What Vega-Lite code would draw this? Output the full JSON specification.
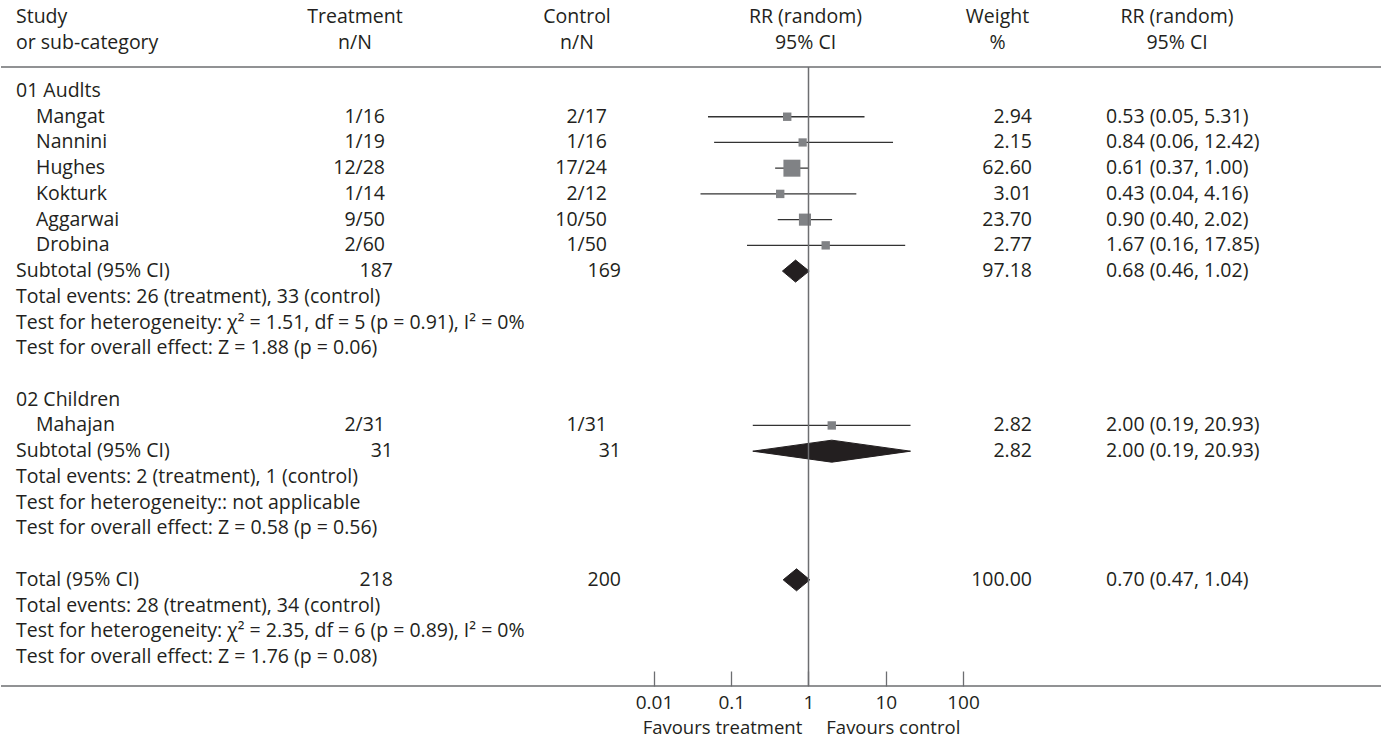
{
  "$schema": "https://vega.github.io/schema/vega-lite/v6.json",
  "padding": {"left": 0, "top": 0, "right": 0, "bottom": 4},
  "autosize": {"type": "pad"},
  "spacing": 0,
  "bounds": "flush",
  "config": {
    "view": {"stroke": null},
    "concat": {"spacing": 0},
    "text": {"font": "Open Sans", "fontSize": 19.5, "color": "#231f20", "baseline": "middle", "lineHeight": 26}
  },
  "datasets": {
    "headers": [
      {"row": -2, "study": ["Study", "or sub-category"], "treat": ["Treatment", "n/N"], "ctrl": ["Control", "n/N"], "plot": ["RR (random)", "95% CI"], "weight": ["Weight", "%"], "ci": ["RR (random)", "95% CI"]}
    ],
    "rows": [
      {"row": 0, "kind": "group", "indent": 0, "label": "01 Audlts"},
      {"row": 1, "kind": "study", "indent": 1, "label": "Mangat", "treat": "1/16", "ctrl": "2/17", "weight": 2.94, "ci": "0.53 (0.05, 5.31)", "rr": 0.53, "lo": 0.05, "hi": 5.31},
      {"row": 2, "kind": "study", "indent": 1, "label": "Nannini", "treat": "1/19", "ctrl": "1/16", "weight": 2.15, "ci": "0.84 (0.06, 12.42)", "rr": 0.84, "lo": 0.06, "hi": 12.42},
      {"row": 3, "kind": "study", "indent": 1, "label": "Hughes", "treat": "12/28", "ctrl": "17/24", "weight": 62.60, "ci": "0.61 (0.37, 1.00)", "rr": 0.61, "lo": 0.37, "hi": 1.00},
      {"row": 4, "kind": "study", "indent": 1, "label": "Kokturk", "treat": "1/14", "ctrl": "2/12", "weight": 3.01, "ci": "0.43 (0.04, 4.16)", "rr": 0.43, "lo": 0.04, "hi": 4.16},
      {"row": 5, "kind": "study", "indent": 1, "label": "Aggarwai", "treat": "9/50", "ctrl": "10/50", "weight": 23.70, "ci": "0.90 (0.40, 2.02)", "rr": 0.90, "lo": 0.40, "hi": 2.02},
      {"row": 6, "kind": "study", "indent": 1, "label": "Drobina", "treat": "2/60", "ctrl": "1/50", "weight": 2.77, "ci": "1.67 (0.16, 17.85)", "rr": 1.67, "lo": 0.16, "hi": 17.85},
      {"row": 7, "kind": "subtotal", "indent": 0, "label": "Subtotal (95% CI)", "treat": "187", "ctrl": "169", "weight": 97.18, "ci": "0.68 (0.46, 1.02)"},
      {"row": 8, "kind": "note", "indent": 0, "label": "Total events: 26 (treatment), 33 (control)"},
      {"row": 9, "kind": "note", "indent": 0, "label": "Test for heterogeneity: χ² = 1.51, df = 5 (p = 0.91), I² = 0%"},
      {"row": 10, "kind": "note", "indent": 0, "label": "Test for overall effect: Z = 1.88 (p = 0.06)"},
      {"row": 12, "kind": "group", "indent": 0, "label": "02 Children"},
      {"row": 13, "kind": "study", "indent": 1, "label": "Mahajan", "treat": "2/31", "ctrl": "1/31", "weight": 2.82, "ci": "2.00 (0.19, 20.93)", "rr": 2.00, "lo": 0.19, "hi": 20.93},
      {"row": 14, "kind": "subtotal", "indent": 0, "label": "Subtotal (95% CI)", "treat": "31", "ctrl": "31", "weight": 2.82, "ci": "2.00 (0.19, 20.93)"},
      {"row": 15, "kind": "note", "indent": 0, "label": "Total events: 2 (treatment), 1 (control)"},
      {"row": 16, "kind": "note", "indent": 0, "label": "Test for heterogeneity:: not applicable"},
      {"row": 17, "kind": "note", "indent": 0, "label": "Test for overall effect: Z = 0.58 (p = 0.56)"},
      {"row": 19, "kind": "total", "indent": 0, "label": "Total (95% CI)", "treat": "218", "ctrl": "200", "weight": 100.00, "ci": "0.70 (0.47, 1.04)"},
      {"row": 20, "kind": "note", "indent": 0, "label": "Total events: 28 (treatment), 34 (control)"},
      {"row": 21, "kind": "note", "indent": 0, "label": "Test for heterogeneity: χ² = 2.35, df = 6 (p = 0.89), I² = 0%"},
      {"row": 22, "kind": "note", "indent": 0, "label": "Test for overall effect: Z = 1.76 (p = 0.08)"}
    ],
    "diamonds": [
      {"analysis": "Subtotal 01", "row": 7, "vertex": "left", "order": 1, "rr": 0.46},
      {"analysis": "Subtotal 01", "row": 7, "vertex": "top", "order": 2, "rr": 0.68},
      {"analysis": "Subtotal 01", "row": 7, "vertex": "right", "order": 3, "rr": 1.02},
      {"analysis": "Subtotal 01", "row": 7, "vertex": "bottom", "order": 4, "rr": 0.68},
      {"analysis": "Subtotal 02", "row": 14, "vertex": "left", "order": 1, "rr": 0.19},
      {"analysis": "Subtotal 02", "row": 14, "vertex": "top", "order": 2, "rr": 2.00},
      {"analysis": "Subtotal 02", "row": 14, "vertex": "right", "order": 3, "rr": 20.93},
      {"analysis": "Subtotal 02", "row": 14, "vertex": "bottom", "order": 4, "rr": 2.00},
      {"analysis": "Total", "row": 19, "vertex": "left", "order": 1, "rr": 0.47},
      {"analysis": "Total", "row": 19, "vertex": "top", "order": 2, "rr": 0.70},
      {"analysis": "Total", "row": 19, "vertex": "right", "order": 3, "rr": 1.04},
      {"analysis": "Total", "row": 19, "vertex": "bottom", "order": 4, "rr": 0.70}
    ]
  },
  "hconcat": [
    {
      "width": 318, "height": 686,
      "layer": [
        {"data": {"values": [{}]}, "mark": {"type": "rule", "color": "#6d6e71", "strokeWidth": 1.3}, "encoding": {"y": {"datum": -0.5, "type": "quantitative", "scale": {"domain": [-2, -1, 0, 22], "range": [17, 43, 91, 657], "nice": false, "zero": false}, "axis": null}}},
        {"data": {"values": [{}]}, "mark": {"type": "rule", "color": "#6d6e71", "strokeWidth": 1.3}, "encoding": {"y": {"value": "height"}}},
        {"data": {"name": "headers"}, "mark": {"type": "text", "align": "left"},
         "encoding": {"x": {"datum": 0, "type": "ordinal", "scale": {"type": "point", "domain": [0, 1], "range": [15, 35], "padding": 0}, "axis": null},
                      "y": {"field": "row", "type": "quantitative", "scale": {"domain": [-2, -1, 0, 22], "range": [17, 43, 91, 657], "nice": false, "zero": false}, "axis": null},
                      "text": {"field": "study"}}},
        {"data": {"name": "rows"}, "mark": {"type": "text", "align": "left"},
         "encoding": {"x": {"field": "indent", "type": "ordinal", "scale": {"type": "point", "domain": [0, 1], "range": [15, 35], "padding": 0}, "axis": null},
                      "y": {"field": "row", "type": "quantitative", "scale": {"domain": [-2, -1, 0, 22], "range": [17, 43, 91, 657], "nice": false, "zero": false}, "axis": null},
                      "text": {"field": "label"}}}
      ]
    },
    {
      "width": 72, "height": 686,
      "layer": [
        {"data": {"values": [{}]}, "mark": {"type": "rule", "color": "#6d6e71", "strokeWidth": 1.3}, "encoding": {"y": {"datum": -0.5, "type": "quantitative", "scale": {"domain": [-2, -1, 0, 22], "range": [17, 43, 91, 657], "nice": false, "zero": false}, "axis": null}}},
        {"data": {"values": [{}]}, "mark": {"type": "rule", "color": "#6d6e71", "strokeWidth": 1.3}, "encoding": {"y": {"value": "height"}}},
        {"data": {"name": "headers"}, "mark": {"type": "text", "align": "center"},
         "encoding": {"y": {"field": "row", "type": "quantitative", "scale": {"domain": [-2, -1, 0, 22], "range": [17, 43, 91, 657], "nice": false, "zero": false}, "axis": null},
                      "text": {"field": "treat"}}},
        {"data": {"name": "rows"}, "transform": [{"filter": "datum.kind === 'study'"}], "mark": {"type": "text", "align": "right", "dx": -6},
         "encoding": {"x": {"value": "width"},
                      "y": {"field": "row", "type": "quantitative", "scale": {"domain": [-2, -1, 0, 22], "range": [17, 43, 91, 657], "nice": false, "zero": false}, "axis": null},
                      "text": {"field": "treat"}}},
        {"data": {"name": "rows"}, "transform": [{"filter": "datum.kind === 'subtotal' || datum.kind === 'total'"}], "mark": {"type": "text", "align": "right", "dx": 2},
         "encoding": {"x": {"value": "width"},
                      "y": {"field": "row", "type": "quantitative", "scale": {"domain": [-2, -1, 0, 22], "range": [17, 43, 91, 657], "nice": false, "zero": false}, "axis": null},
                      "text": {"field": "treat"}}}
      ]
    },
    {
      "width": 148, "height": 686,
      "layer": [
        {"data": {"values": [{}]}, "mark": {"type": "rule", "color": "#6d6e71", "strokeWidth": 1.3}, "encoding": {"y": {"datum": -0.5, "type": "quantitative", "scale": {"domain": [-2, -1, 0, 22], "range": [17, 43, 91, 657], "nice": false, "zero": false}, "axis": null}}},
        {"data": {"values": [{}]}, "mark": {"type": "rule", "color": "#6d6e71", "strokeWidth": 1.3}, "encoding": {"y": {"value": "height"}}}
      ]
    },
    {
      "width": 70, "height": 686,
      "layer": [
        {"data": {"values": [{}]}, "mark": {"type": "rule", "color": "#6d6e71", "strokeWidth": 1.3}, "encoding": {"y": {"datum": -0.5, "type": "quantitative", "scale": {"domain": [-2, -1, 0, 22], "range": [17, 43, 91, 657], "nice": false, "zero": false}, "axis": null}}},
        {"data": {"values": [{}]}, "mark": {"type": "rule", "color": "#6d6e71", "strokeWidth": 1.3}, "encoding": {"y": {"value": "height"}}},
        {"data": {"name": "headers"}, "mark": {"type": "text", "align": "center", "dx": 3},
         "encoding": {"y": {"field": "row", "type": "quantitative", "scale": {"domain": [-2, -1, 0, 22], "range": [17, 43, 91, 657], "nice": false, "zero": false}, "axis": null},
                      "text": {"field": "ctrl"}}},
        {"data": {"name": "rows"}, "transform": [{"filter": "datum.kind === 'study'"}], "mark": {"type": "text", "align": "right", "dx": -2},
         "encoding": {"x": {"value": "width"},
                      "y": {"field": "row", "type": "quantitative", "scale": {"domain": [-2, -1, 0, 22], "range": [17, 43, 91, 657], "nice": false, "zero": false}, "axis": null},
                      "text": {"field": "ctrl"}}},
        {"data": {"name": "rows"}, "transform": [{"filter": "datum.kind === 'subtotal' || datum.kind === 'total'"}], "mark": {"type": "text", "align": "right", "dx": 12},
         "encoding": {"x": {"value": "width"},
                      "y": {"field": "row", "type": "quantitative", "scale": {"domain": [-2, -1, 0, 22], "range": [17, 43, 91, 657], "nice": false, "zero": false}, "axis": null},
                      "text": {"field": "ctrl"}}}
      ]
    },
    {
      "width": 45, "height": 686,
      "layer": [
        {"data": {"values": [{}]}, "mark": {"type": "rule", "color": "#6d6e71", "strokeWidth": 1.3}, "encoding": {"y": {"datum": -0.5, "type": "quantitative", "scale": {"domain": [-2, -1, 0, 22], "range": [17, 43, 91, 657], "nice": false, "zero": false}, "axis": null}}},
        {"data": {"values": [{}]}, "mark": {"type": "rule", "color": "#6d6e71", "strokeWidth": 1.3}, "encoding": {"y": {"value": "height"}}}
      ]
    },
    {
      "width": 309, "height": 686,
      "layer": [
        {"data": {"values": [{}]}, "mark": {"type": "rule", "color": "#6d6e71", "strokeWidth": 1.3}, "encoding": {"y": {"datum": -0.5, "type": "quantitative", "scale": {"domain": [-2, -1, 0, 22], "range": [17, 43, 91, 657], "nice": false, "zero": false}, "axis": null}}},
        {"data": {"values": [{}]}, "mark": {"type": "rule", "color": "#6d6e71", "strokeWidth": 1.3}, "encoding": {"y": {"value": "height"}}},
        {"data": {"name": "rows"}, "transform": [{"filter": "datum.kind === 'study'"}], "mark": {"type": "rule", "color": "#333333", "strokeWidth": 1.3},
         "encoding": {"x": {"field": "lo", "type": "quantitative", "scale": {"type": "log", "domain": [0.01, 100], "nice": false},
                            "axis": {"values": [0.01, 0.1, 1, 10, 100], "format": "~g", "domain": false, "grid": false, "tickSize": -15, "tickColor": "#6d6e71", "tickWidth": 1.3,
                                     "labelFont": "Open Sans", "labelFontSize": 19, "labelColor": "#231f20", "labelPadding": 22, "labelFlush": false,
                                     "title": "Favours treatment\u00a0\u00a0\u00a0\u00a0\u00a0Favours control", "titleX": 147, "titleFont": "Open Sans", "titleFontSize": 18.5, "titleFontWeight": "normal", "titleColor": "#231f20", "titlePadding": 6}},
                      "x2": {"field": "hi"},
                      "y": {"field": "row", "type": "quantitative", "scale": {"domain": [-2, -1, 0, 22], "range": [17, 43, 91, 657], "nice": false, "zero": false}, "axis": null}}},
        {"data": {"name": "rows"}, "transform": [{"filter": "datum.kind === 'study'"}], "mark": {"type": "point", "shape": "square", "filled": true, "color": "#808285", "opacity": 1},
         "encoding": {"x": {"field": "rr", "type": "quantitative"},
                      "y": {"field": "row", "type": "quantitative", "scale": {"domain": [-2, -1, 0, 22], "range": [17, 43, 91, 657], "nice": false, "zero": false}, "axis": null},
                      "size": {"field": "weight", "type": "quantitative", "scale": {"domain": [0, 63], "range": [60, 290], "zero": false}, "legend": null}}},
        {"data": {"name": "diamonds"}, "mark": {"type": "line", "interpolate": "linear-closed", "fill": "#231f20", "stroke": "#231f20", "strokeWidth": 1,
                                                 "yOffset": {"expr": "datum.vertex === 'top' ? -11 : (datum.vertex === 'bottom' ? 11 : 0)"}},
         "encoding": {"x": {"field": "rr", "type": "quantitative"},
                      "y": {"field": "row", "type": "quantitative", "scale": {"domain": [-2, -1, 0, 22], "range": [17, 43, 91, 657], "nice": false, "zero": false}, "axis": null},
                      "detail": {"field": "analysis"},
                      "order": {"field": "order", "type": "quantitative"}}},
        {"data": {"values": [{}]}, "mark": {"type": "rule", "color": "#6d6e71", "strokeWidth": 1.5},
         "encoding": {"x": {"datum": 1, "type": "quantitative"},
                      "y": {"datum": -0.5, "type": "quantitative", "scale": {"domain": [-2, -1, 0, 22], "range": [17, 43, 91, 657], "nice": false, "zero": false}, "axis": null},
                      "y2": {"value": "height"}}},
        {"data": {"name": "headers"}, "mark": {"type": "text", "align": "center", "dx": -3},
         "encoding": {"y": {"field": "row", "type": "quantitative", "scale": {"domain": [-2, -1, 0, 22], "range": [17, 43, 91, 657], "nice": false, "zero": false}, "axis": null},
                      "text": {"field": "plot"}}}
      ]
    },
    {
      "width": 69, "height": 686,
      "layer": [
        {"data": {"values": [{}]}, "mark": {"type": "rule", "color": "#6d6e71", "strokeWidth": 1.3}, "encoding": {"y": {"datum": -0.5, "type": "quantitative", "scale": {"domain": [-2, -1, 0, 22], "range": [17, 43, 91, 657], "nice": false, "zero": false}, "axis": null}}},
        {"data": {"values": [{}]}, "mark": {"type": "rule", "color": "#6d6e71", "strokeWidth": 1.3}, "encoding": {"y": {"value": "height"}}},
        {"data": {"name": "headers"}, "mark": {"type": "text", "align": "center"},
         "encoding": {"y": {"field": "row", "type": "quantitative", "scale": {"domain": [-2, -1, 0, 22], "range": [17, 43, 91, 657], "nice": false, "zero": false}, "axis": null},
                      "text": {"field": "weight"}}},
        {"data": {"name": "rows"}, "transform": [{"filter": "isValid(datum.weight)"}], "mark": {"type": "text", "align": "right"},
         "encoding": {"x": {"value": "width"},
                      "y": {"field": "row", "type": "quantitative", "scale": {"domain": [-2, -1, 0, 22], "range": [17, 43, 91, 657], "nice": false, "zero": false}, "axis": null},
                      "text": {"field": "weight", "type": "quantitative", "format": ".2f"}}}
      ]
    },
    {
      "width": 74, "height": 686,
      "layer": [
        {"data": {"values": [{}]}, "mark": {"type": "rule", "color": "#6d6e71", "strokeWidth": 1.3}, "encoding": {"y": {"datum": -0.5, "type": "quantitative", "scale": {"domain": [-2, -1, 0, 22], "range": [17, 43, 91, 657], "nice": false, "zero": false}, "axis": null}}},
        {"data": {"values": [{}]}, "mark": {"type": "rule", "color": "#6d6e71", "strokeWidth": 1.3}, "encoding": {"y": {"value": "height"}}}
      ]
    },
    {
      "width": 142, "height": 686,
      "layer": [
        {"data": {"values": [{}]}, "mark": {"type": "rule", "color": "#6d6e71", "strokeWidth": 1.3}, "encoding": {"y": {"datum": -0.5, "type": "quantitative", "scale": {"domain": [-2, -1, 0, 22], "range": [17, 43, 91, 657], "nice": false, "zero": false}, "axis": null}}},
        {"data": {"values": [{}]}, "mark": {"type": "rule", "color": "#6d6e71", "strokeWidth": 1.3}, "encoding": {"y": {"value": "height"}}},
        {"data": {"name": "headers"}, "mark": {"type": "text", "align": "center"},
         "encoding": {"y": {"field": "row", "type": "quantitative", "scale": {"domain": [-2, -1, 0, 22], "range": [17, 43, 91, 657], "nice": false, "zero": false}, "axis": null},
                      "text": {"field": "ci"}}},
        {"data": {"name": "rows"}, "transform": [{"filter": "isValid(datum.ci)"}], "mark": {"type": "text", "align": "left"},
         "encoding": {"x": {"value": 0},
                      "y": {"field": "row", "type": "quantitative", "scale": {"domain": [-2, -1, 0, 22], "range": [17, 43, 91, 657], "nice": false, "zero": false}, "axis": null},
                      "text": {"field": "ci"}}}
      ]
    },
    {
      "width": 134, "height": 686,
      "layer": [
        {"data": {"values": [{}]}, "mark": {"type": "rule", "color": "#6d6e71", "strokeWidth": 1.3}, "encoding": {"y": {"datum": -0.5, "type": "quantitative", "scale": {"domain": [-2, -1, 0, 22], "range": [17, 43, 91, 657], "nice": false, "zero": false}, "axis": null}}},
        {"data": {"values": [{}]}, "mark": {"type": "rule", "color": "#6d6e71", "strokeWidth": 1.3}, "encoding": {"y": {"value": "height"}}}
      ]
    }
  ]
}
